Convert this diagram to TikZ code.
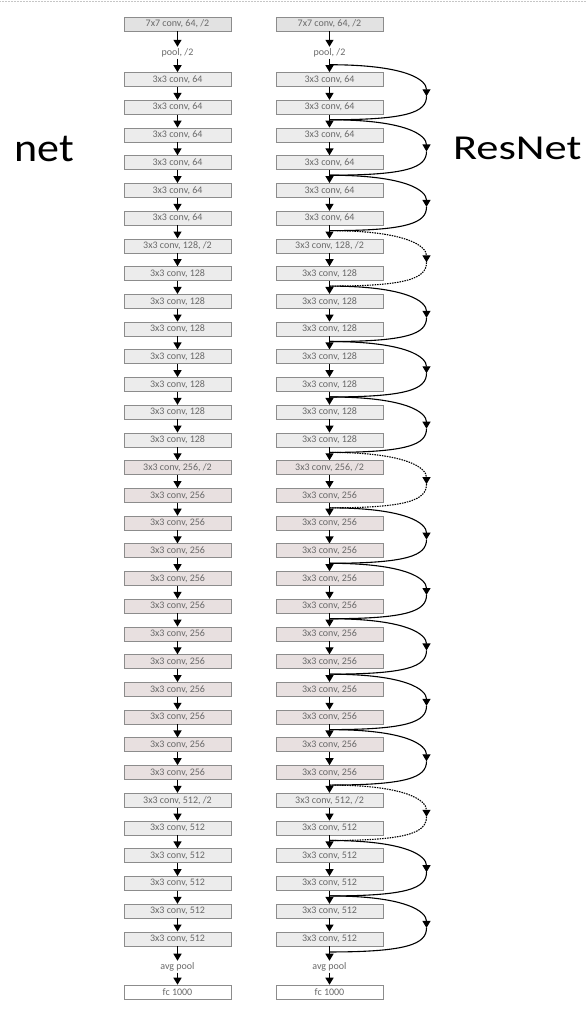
\documentclass[tikz,border=0pt]{standalone}
\usepackage{fontspec}
\setmainfont{Carlito}
\usetikzlibrary{calc, positioning, arrows.meta}
\definecolor{boxgray}{RGB}{236,236,236}
\definecolor{boxpink}{RGB}{232,224,224}
\definecolor{topgray}{RGB}{226,226,226}
\definecolor{framegray}{RGB}{140,140,140}
\definecolor{labelgray}{RGB}{105,105,105}

\begin{document}
\begin{tikzpicture}[x=1pt, y=-1pt, >={Triangle[width=8pt,length=7pt]}, line width=1.3pt]
  \tikzset{
    layer/.style={draw=framegray, line width=0.6pt, minimum width=107pt, minimum height=14pt,
      inner sep=0pt, font=\fontsize{10}{11}\selectfont, text=labelgray},
    plain/.style={inner sep=1pt, font=\fontsize{10}{11}\selectfont, text=labelgray},
    title/.style={anchor=base west, transform shape},
    skip/.style={line width=1.1pt},
    skipdash/.style={line width=1.1pt, dash pattern=on 1.5pt off 1pt}
  }
  \useasboundingbox (0,0) rectangle (586,1010);
  \draw[gray!45, line width=0.5pt, densely dotted] (0,1) -- (586,1);

  % both columns
  \foreach \side/\x in {L/177.5, R/329.5} {
    \node[layer, fill=topgray] (\side0) at (\x,24) {7x7 conv, 64, /2};
    \node[plain] (\side p) at (\x,52.7) {pool, /2};
    \foreach \first/\last/\ch/\col in {1/6/64/boxgray, 7/14/128/boxgray, 15/26/256/boxpink, 27/32/512/boxgray} {
      \foreach \i in {\first,...,\last} {
        \node[layer, fill=\col] (\side\i) at (\x,{79.5+(\i-1)*27.72})
          {3x3 conv, \ch\ifnum\i=\first\relax\ifnum\i>1\relax, /2\fi\fi};
      }
    }
    \node[plain] (\side a) at (\x,966.7) {avg pool};
    \node[layer, fill=white] (\side f) at (\x,992) {fc 1000};

    \draw[->] (\side0) -- (\side p);
    \draw[->] (\side p) -- (\side1);
    \foreach \i [count=\j from 2] in {1,...,31}
      \draw[->] (\side\i) -- (\side\j);
    \draw[->] (\side32) -- (\side a);
    \draw[->] (\side a) -- (\side f);
  }

  % shortcut junctions on the right column
  \coordinate (J0) at ($(Rp.south)!0.45!(R1.north)$);
  \foreach \k in {1,...,15} {
    \pgfmathtruncatemacro{\a}{2*\k}
    \pgfmathtruncatemacro{\b}{2*\k+1}
    \coordinate (J\k) at ($(R\a.south)!0.4!(R\b.north)$);
  }
  \coordinate (J16) at ($(R32.south)!0.4!(Ra.north)$);

  % shortcuts
  \foreach \k [count=\n from 1] in {0,...,15} {
    \ifnum\k=3 \def\sty{skipdash}\else\ifnum\k=7 \def\sty{skipdash}\else
      \ifnum\k=13 \def\sty{skipdash}\else\def\sty{skip}\fi\fi\fi
    \coordinate (M\k) at ($(J\k)!0.5!(J\n)+(97,4)$);
    \draw[\sty, ->] (J\k) .. controls +(78,0) and +(0,-16) .. (M\k);
    \draw[\sty] (M\k) .. controls +(0,16) and +(78,0) .. (J\n);
  }

  \node[title, xscale=1.1, font=\fontsize{40}{44}\selectfont] (plainnet) at (10,161.7) {net};
  \node[title, xscale=1.27, font=\fontsize{35}{40}\selectfont] (resnet) at (448,159.3) {ResNet};
\end{tikzpicture}
\end{document}
